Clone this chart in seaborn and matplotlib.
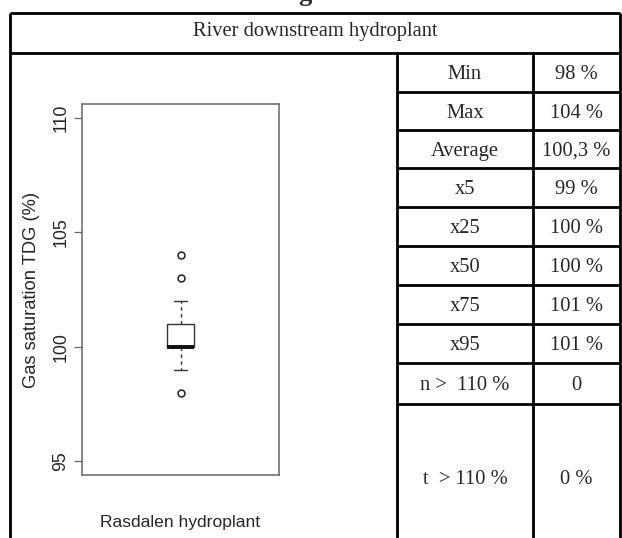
import numpy as np
import pandas as pd
import seaborn as sns
import matplotlib.pyplot as plt

# Measured TDG saturation levels (%) and how many samples fell on each level
tdg_levels = [98, 99, 100, 101, 102, 103, 104]
tdg_counts = [1, 10, 55, 30, 2, 1, 1]

station = "Rasdalen hydroplant"
panel_title = "River downstream hydroplant"
y_label = "Gas saturation TDG (%)"
y_ticks = [95, 100, 105, 110]

stat_names = ["Min", "Max", "Average", "x5", "x25", "x50",
              "x75", "x95", "n >  110 %", "t  > 110 %"]
stat_values = ["98 %", "104 %", "100,3 %", "99 %", "100 %", "100 %",
               "101 %", "101 %", "0", "0 %"]

sns.set_style("white")
plt.rcParams["font.family"] = ["Liberation Sans", "DejaVu Sans"]

W, H = 622, 538
fig = plt.figure(figsize=(W / 100, H / 100), dpi=100)

# Layer in pixel coordinates for the table frame and its texts
grid = fig.add_axes([0, 0, 1, 1])
grid.set_xlim(0, W)
grid.set_ylim(H, 0)
grid.axis("off")

lw = 2.0
left, right, top = 10, 620, 13
title_bottom = 53
col1, col2 = 397, 533
row_lines = [91.5, 129.5, 168, 207, 245.5, 284.5, 324, 363, 404]
row_text_y = [72, 110.5, 149, 187.5, 226, 265, 304, 343.5, 383.5, 477]

grid.hlines([top, title_bottom], left, right, color="black", lw=lw)
grid.vlines([left, right], top, H, color="black", lw=lw)
grid.vlines([col1, col2], title_bottom, H, color="black", lw=lw)
grid.hlines(row_lines, col1, right, color="black", lw=lw)

serif = ["Liberation Serif", "DejaVu Serif"]
fs_tab = 14.8
grid.text((left + right) / 2, 29, panel_title, family=serif, fontsize=fs_tab,
          ha="center", va="center_baseline")
grid.text(305, 1, "g", family=serif, fontsize=19, fontweight="bold",
          ha="center", va="baseline")
for name, val, ty in zip(stat_names, stat_values, row_text_y):
    grid.text((col1 + col2) / 2, ty, name, family=serif, fontsize=fs_tab,
              ha="center", va="center_baseline")
    grid.text((col2 + right) / 2, ty, val, family=serif, fontsize=fs_tab,
              ha="center", va="center_baseline")

# Box plot panel
ax = fig.add_axes([82 / W, (H - 475) / H, 197 / W, 371 / H])
df = pd.DataFrame({"station": station,
                   "tdg": np.repeat(tdg_levels, tdg_counts)})
edge = "#333333"
sns.boxplot(data=df, y="tdg", ax=ax, width=0.14, color="white",
            linecolor=edge, linewidth=1.0, whis=1.5,
            whiskerprops=dict(linestyle=(0, (2.5, 2.5))),
            medianprops=dict(linewidth=2.8, color="#111111"),
            flierprops=dict(marker="o", markersize=5,
                            markerfacecolor="none",
                            markeredgecolor="#222222",
                            markeredgewidth=1.1))

ax.set_xlim(-0.5, 0.5)
ax.set_ylim(94.4, 110.6)
ax.set_yticks(y_ticks)
ax.set_xticks([])
for sp in ax.spines.values():
    sp.set_visible(True)
    sp.set_color("#666666")
    sp.set_linewidth(1.1)
ax.tick_params(axis="y", left=True, length=6, width=0.9, color="#666666",
               labelsize=12.8, pad=3)
plt.setp(ax.get_yticklabels(), rotation=90, va="center")

ax.set_ylabel(y_label, fontsize=13.2)
ax.yaxis.label.set_va("center")
ax.yaxis.set_label_coords((32 - 82) / 197, 0.5)
ax.set_xlabel(station, fontsize=12.6)
ax.xaxis.label.set_va("center")
ax.xaxis.set_label_coords(0.5, (475 - 523) / 371)

fig.savefig("out.png", dpi=100)
